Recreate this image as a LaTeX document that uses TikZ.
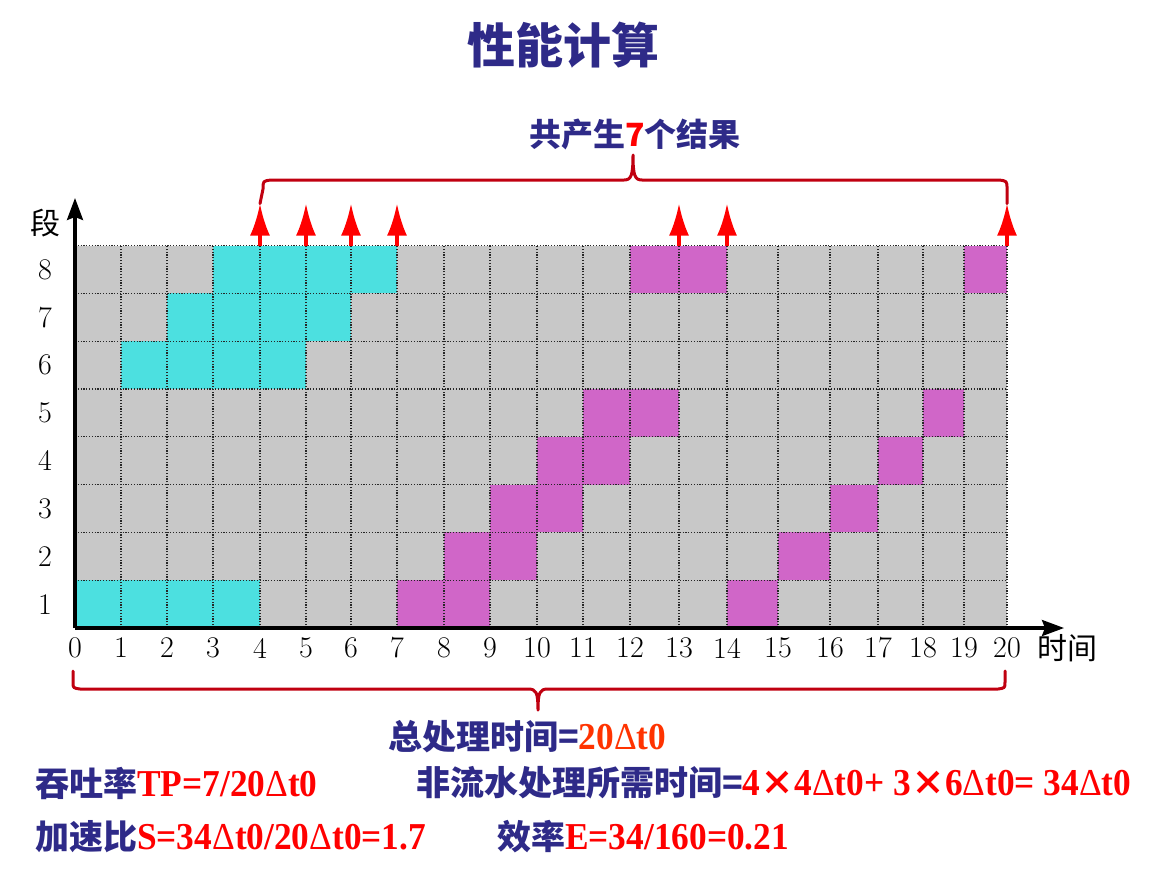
\documentclass[tikz,border=0pt]{standalone}
\usepackage{fontspec}
\usetikzlibrary{arrows.meta}
\newfontfamily\cjk{Noto Sans CJK SC}
\newfontfamily\tms{Liberation Serif}[FakeStretch=0.93]
\definecolor{navy}{HTML}{2E2A88}
\definecolor{ored}{HTML}{FF3300}
\definecolor{bred}{HTML}{C00010}
\definecolor{cyanc}{HTML}{4CE0E0}
\definecolor{magc}{HTML}{D066C8}
\definecolor{grayc}{HTML}{C8C8C8}
\newcommand{\dlt}{{\mdseries Δ}}
\newcommand{\lat}{\tms\bfseries\fontsize{38}{40}\selectfont}
\begin{document}
\begin{tikzpicture}[x=1pt,y=-1pt,
  gridl/.style={draw=black!85, line width=1.1pt, dash pattern=on 1.2pt off 1.6pt},
  axisl/.style={line width=3.2pt, -{Stealth[length=22pt,width=16pt,inset=3pt]}},
  resarrow/.style={draw=red, line width=3.4pt, -{Latex[length=32pt,width=20pt]}},
  bracel/.style={draw=bred, line width=3pt, line cap=round, line join=round},
  numlab/.style={font=\fontsize{30}{32}\selectfont, inner sep=0pt},
  cjklab/.style={font=\cjk\fontsize{30}{32}\selectfont, inner sep=0pt},
  bigtxt/.style={font=\cjk\bfseries\fontsize{34}{38}\selectfont, text=navy, inner sep=0pt, anchor=west}]
\useasboundingbox (0,0) rectangle (1153,871);
% column and row coordinates
\foreach \x [count=\i from 0] in {75,121,167,213,260,306,351,397,444,490,537,583,630,679,727,778,830,878,923,964,1007}
  { \coordinate (c\i) at (\x,628); }
\foreach \k in {0,...,8} { \coordinate (r\k) at (75,{628-47.8*\k}); }
% background
\fill[grayc] (c0) rectangle (c20 |- r8);
% cyan cells
\foreach \a/\b/\r/\s in {0/4/1/0,1/5/6/5,2/6/7/6,3/7/8/7}
  { \fill[cyanc] (c\a |- r\s) rectangle (c\b |- r\r); }
% magenta cells
\foreach \a/\b/\r/\s in {7/9/1/0,8/10/2/1,9/11/3/2,10/12/4/3,11/13/5/4,12/14/8/7,
   14/15/1/0,15/16/2/1,16/17/3/2,17/18/4/3,18/19/5/4,19/20/8/7}
  { \fill[magc] (c\a |- r\s) rectangle (c\b |- r\r); }
% grid
\foreach \i in {1,...,20} { \draw[gridl] (c\i) -- (c\i |- r8); }
\foreach \k in {1,...,8} { \draw[gridl] (r\k) -- (c20 |- r\k); }
% axes
\coordinate (O) at (75,628);
\coordinate (ytip) at (75,198);
\coordinate (xtip) at (1064,628);
\draw[axisl] (O) -- (ytip);
\draw[axisl] (O) -- (xtip);
% axis labels
\foreach \i in {0,...,20} { \node[numlab] (xl\i) at ([yshift=-20pt]c\i) {\i}; }
\foreach \k in {1,...,8} { \node[numlab] (yl\k) at (45,{628-47.8*(\k-0.5)}) {\k}; }
\node[cjklab] (seg) at (45,223) {段};
\node[cjklab, anchor=west] (tim) at (1037,648) {时间};
% result arrows
\foreach \q in {4,5,6,7,13,14,20} {
  \coordinate (ab\q) at (c\q |- r8);
  \coordinate (at\q) at ([yshift=42pt]ab\q);
  \draw[resarrow] (ab\q) -- (at\q);
}
% top brace
\draw[bracel] (at4) -- (263,189) .. controls (263,181) .. (271,180) -- (624,180)
  .. controls (631,180) and (633,176) .. (633,155)
  .. controls (633,176) and (635,180) .. (642,180) -- (999,180)
  .. controls (1007,181) .. (1007,189) -- (at20);
% bottom brace
\coordinate (bl) at (73,671);
\coordinate (br) at (1005,671);
\draw[bracel] (bl) -- (73,682) .. controls (73,688) .. (80,689) -- (528,689)
  .. controls (536,689) and (538,692) .. (538,710)
  .. controls (538,692) and (540,689) .. (548,689) -- (998,689)
  .. controls (1005,688) .. (1005,682) -- (br);
% texts
\node[font=\cjk\bfseries\fontsize{48}{54}\selectfont, text=navy, inner sep=0pt] (title) at (563,45) {性能计算};
\node[font=\cjk\bfseries\fontsize{32}{36}\selectfont, text=navy, inner sep=0pt] (res) at (635,134) {共产生{\color{red}7}个结果};
\node[bigtxt] (tot) at (388,737) {总处理时间={\lat\color{ored}20\dlt t0}};
\node[bigtxt] (tp) at (35,783) {吞吐率{\lat\color{red}TP=7/20\dlt t0}};
\node[bigtxt] (np) at (416,783) {非流水处理所需时间={\color{red}{\lat 4}×{\lat 4\dlt t0+ 3}×{\lat 6\dlt t0= 34\dlt t0}}};
\node[bigtxt] (sp) at (35,837) {加速比{\lat\color{red}S=34\dlt t0/20\dlt t0=1.7}};
\node[bigtxt] (ef) at (497,837) {效率{\lat\color{red}E=34/160=0.21}};
\end{tikzpicture}
\end{document}
